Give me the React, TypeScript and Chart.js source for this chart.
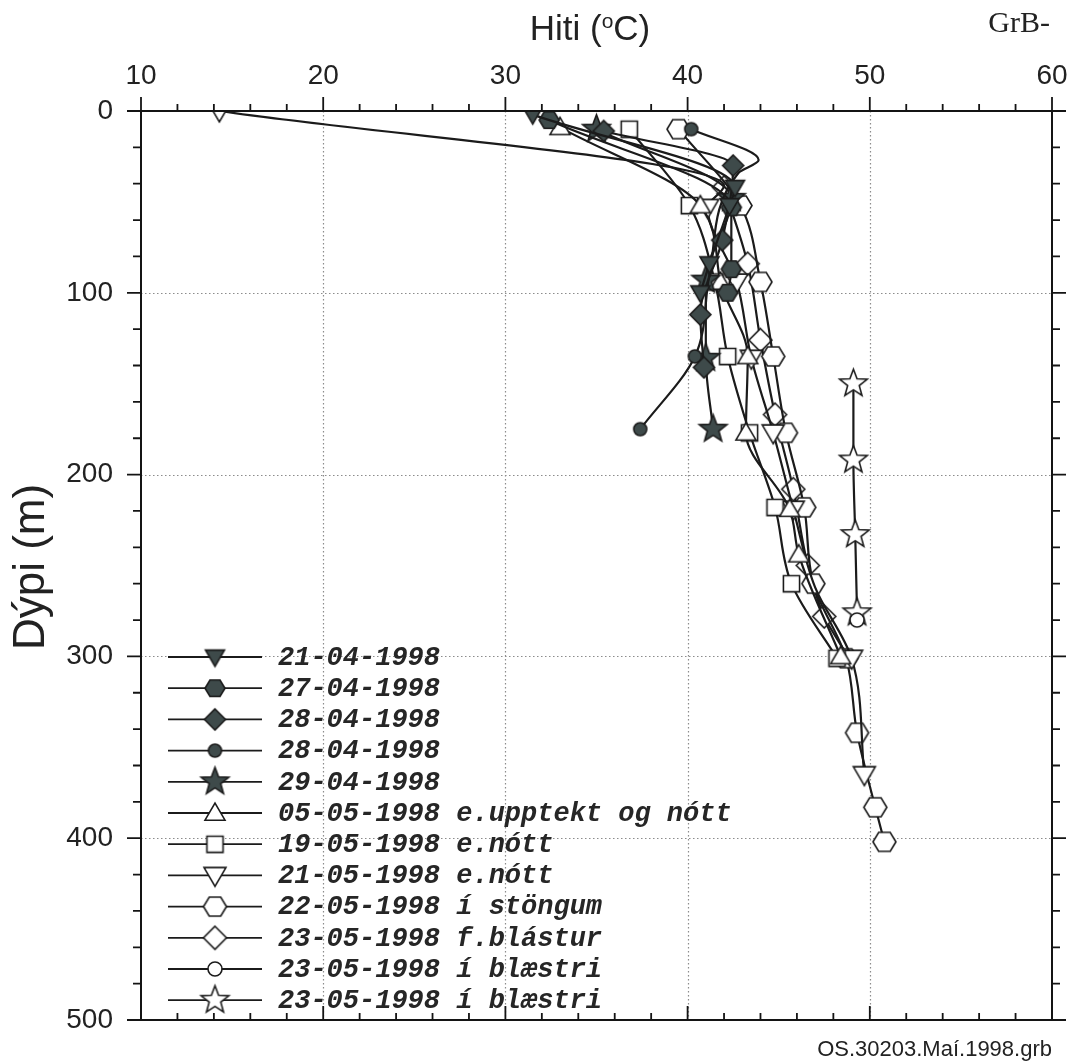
import React, { useEffect, useRef } from 'react';
import { Chart, registerables } from 'chart.js';

Chart.register(...registerables);

// ---------------- data ----------------
const legendLabels = [
  '21-04-1998',
  '27-04-1998',
  '28-04-1998',
  '28-04-1998',
  '29-04-1998',
  '05-05-1998 e.upptekt og nótt',
  '19-05-1998 e.nótt',
  '21-05-1998 e.nótt',
  '22-05-1998 í stöngum',
  '23-05-1998 f.blástur',
  '23-05-1998 í blæstri',
  '23-05-1998 í blæstri',
];

// temperature (°C) and depth (m) per survey
const t2104 = [31.5, 42.6, 42.3, 41.2, 40.7];
const d2104 = [2, 42, 52, 84, 100];

const t2704 = [32.4, 42.4, 42.4, 42.2];
const d2704 = [5, 53, 87, 100];

const t2804a = [35.4, 42.5, 41.9, 40.7, 40.9];
const d2804a = [11, 30, 71, 112, 141];

const t2804b = [40.2, 43.9, 42.8, 41.2, 40.4, 37.4];
const d2804b = [10, 27, 34, 90, 135, 175];
const m2804b = [1, 0, 0, 0, 1, 1];

const t2904 = [35.0, 42.4, 41.0, 41.0, 41.4];
const d2904 = [10, 48, 93, 136, 175];

const t0505 = [33.0, 40.7, 41.8, 43.3, 43.2, 45.6, 46.1, 48.4];
const d0505 = [9, 52, 94, 135, 177, 219, 244, 300];

const t1905 = [36.8, 40.1, 41.5, 42.2, 43.4, 44.8, 45.7, 48.2];
const d1905 = [10, 52, 94, 135, 177, 218, 260, 301];

const t2105 = [14.3, 42.0, 41.1, 42.7, 43.5, 44.7, 45.8, 47.0, 49.0, 49.7];
const d2105 = [0, 41, 53, 94, 136, 177, 219, 262, 301, 365];
const m2105 = [1, 0, 1, 1, 1, 1, 1, 0, 1, 1];

const t2205 = [39.5, 42.9, 44.0, 44.7, 45.4, 46.4, 46.9, 48.7, 49.3, 50.3, 50.8];
const d2205 = [10, 52, 94, 135, 177, 218, 260, 301, 342, 383, 402];

const t2305f = [42.0, 43.3, 44.0, 44.8, 45.8, 46.6, 47.5, 48.8];
const d2305f = [42, 84, 126, 167, 208, 250, 278, 300];
const m2305f = [1, 1, 1, 1, 1, 1, 1, 0];

const t2305c = [49.3];
const d2305c = [280];

const t2305s = [49.1, 49.1, 49.2, 49.3];
const d2305s = [150, 192, 233, 276];

const xGridValues = [20, 30, 40, 50];
const yGridValues = [100, 200, 300, 400];

// ---------------- styling ----------------
const LINE = '#1b1b1b';
const FILL = '#3e4a4a';
const TICK_FONT = "'Liberation Sans', Arial, sans-serif";

type Shape = 'triDown' | 'triUp' | 'hex' | 'diamond' | 'circle' | 'star' | 'square';

const markerSpecs: { shape: Shape; size: number; filled: boolean }[] = [
  { shape: 'triDown', size: 19, filled: true },
  { shape: 'hex', size: 20, filled: true },
  { shape: 'diamond', size: 21, filled: true },
  { shape: 'circle', size: 13, filled: true },
  { shape: 'star', size: 29, filled: true },
  { shape: 'triUp', size: 20, filled: false },
  { shape: 'square', size: 19, filled: false },
  { shape: 'triDown', size: 22, filled: false },
  { shape: 'hex', size: 23, filled: false },
  { shape: 'diamond', size: 23, filled: false },
  { shape: 'circle', size: 14, filled: false },
  { shape: 'star', size: 29, filled: false },
];

function makeMarker(shape: Shape, size: number, filled: boolean): HTMLCanvasElement {
  const pad = 3;
  const dim = Math.ceil(size + pad * 2);
  const c = document.createElement('canvas');
  c.width = dim;
  c.height = dim;
  const ctx = c.getContext('2d')!;
  const r = size / 2;
  ctx.translate(dim / 2, dim / 2);
  ctx.beginPath();
  if (shape === 'triDown') {
    ctx.moveTo(-r, -r * 0.72);
    ctx.lineTo(r, -r * 0.72);
    ctx.lineTo(0, r);
    ctx.closePath();
  } else if (shape === 'triUp') {
    ctx.moveTo(-r, r * 0.72);
    ctx.lineTo(r, r * 0.72);
    ctx.lineTo(0, -r);
    ctx.closePath();
  } else if (shape === 'hex') {
    for (let i = 0; i < 6; i++) {
      const a = (i * Math.PI) / 3;
      const px = r * Math.cos(a);
      const py = r * 0.95 * Math.sin(a);
      if (i === 0) ctx.moveTo(px, py);
      else ctx.lineTo(px, py);
    }
    ctx.closePath();
  } else if (shape === 'diamond') {
    ctx.moveTo(0, -r);
    ctx.lineTo(r, 0);
    ctx.lineTo(0, r);
    ctx.lineTo(-r, 0);
    ctx.closePath();
  } else if (shape === 'square') {
    const h = r * 0.85;
    ctx.rect(-h, -h, 2 * h, 2 * h);
  } else if (shape === 'circle') {
    ctx.arc(0, 0, r, 0, Math.PI * 2);
  } else if (shape === 'star') {
    for (let i = 0; i < 10; i++) {
      const a = -Math.PI / 2 + (i * Math.PI) / 5;
      const rr = i % 2 === 0 ? r : r * 0.42;
      const px = rr * Math.cos(a);
      const py = rr * Math.sin(a);
      if (i === 0) ctx.moveTo(px, py);
      else ctx.lineTo(px, py);
    }
    ctx.closePath();
  }
  ctx.fillStyle = filled ? FILL : '#ffffff';
  ctx.fill();
  ctx.lineWidth = 1.6;
  ctx.strokeStyle = LINE;
  ctx.stroke();
  return c;
}

const seriesT = [t2104, t2704, t2804a, t2804b, t2904, t0505, t1905, t2105, t2205, t2305f, t2305c, t2305s];
const seriesD = [d2104, d2704, d2804a, d2804b, d2904, d0505, d1905, d2105, d2205, d2305f, d2305c, d2305s];
const seriesMarked: (number[] | null)[] = [null, null, null, m2804b, null, null, null, m2105, null, m2305f, null, null];

export default function App() {
  const ref = useRef<HTMLCanvasElement | null>(null);

  useEffect(() => {
    const canvas = ref.current;
    if (!canvas) return;
    const markers = markerSpecs.map((m) => makeMarker(m.shape, m.size, m.filled));

    const datasets = seriesT.map((ts, i) => {
      const ds = seriesD[i];
      const marked = seriesMarked[i];
      return {
        label: legendLabels[i],
        data: ts.map((t, j) => ({ x: t, y: ds[j] })),
        borderColor: LINE,
        borderWidth: 2.2,
        backgroundColor: LINE,
        pointStyle: markers[i],
        pointRadius: marked ? marked.map((m) => (m ? 8 : 0)) : 8,
        pointHoverRadius: 8,
        cubicInterpolationMode: 'monotone' as const,
        fill: false,
      };
    });

    const framePlugin = {
      id: 'framePlugin',
      beforeDatasetsDraw(chart: any) {
        const { ctx, chartArea: a, scales } = chart;
        const x = scales.x;
        const y = scales.y;
        ctx.save();
        ctx.strokeStyle = '#8c8c8c';
        ctx.lineWidth = 1.2;
        ctx.setLineDash([1.5, 2.5]);
        for (const v of xGridValues) {
          const px = Math.round(x.getPixelForValue(v)) + 0.5;
          ctx.beginPath();
          ctx.moveTo(px, a.top);
          ctx.lineTo(px, a.bottom);
          ctx.stroke();
        }
        for (const v of yGridValues) {
          const py = Math.round(y.getPixelForValue(v)) + 0.5;
          ctx.beginPath();
          ctx.moveTo(a.left, py);
          ctx.lineTo(a.right, py);
          ctx.stroke();
        }
        ctx.restore();
      },
      afterDatasetsDraw(chart: any) {
        const { ctx, chartArea: a, scales } = chart;
        const x = scales.x;
        const y = scales.y;
        ctx.save();
        ctx.strokeStyle = '#141414';
        ctx.lineWidth = 2;
        ctx.strokeRect(a.left, a.top, a.right - a.left, a.bottom - a.top);
        ctx.lineWidth = 1.8;
        // x ticks
        for (let v = x.min; v <= x.max + 0.001; v += 2) {
          const major = Math.abs(v % 10) < 0.001;
          const len = major ? 14 : 7;
          const px = x.getPixelForValue(v);
          ctx.beginPath();
          ctx.moveTo(px, a.top);
          ctx.lineTo(px, a.top - len);
          ctx.moveTo(px, a.bottom);
          ctx.lineTo(px, a.bottom - len);
          ctx.stroke();
        }
        // y ticks
        for (let v = y.min; v <= y.max + 0.001; v += 20) {
          const major = Math.abs(v % 100) < 0.001;
          const len = major ? 14 : 8;
          const py = y.getPixelForValue(v);
          ctx.beginPath();
          ctx.moveTo(a.left, py);
          ctx.lineTo(a.left - len, py);
          ctx.moveTo(a.right, py);
          ctx.lineTo(a.right + len, py);
          ctx.stroke();
        }

        // legend
        const rowTop = 657;
        const rowStep = 31.2;
        ctx.font = "italic bold 27px 'Liberation Mono', 'Courier New', monospace";
        ctx.textBaseline = 'middle';
        ctx.textAlign = 'left';
        legendLabels.forEach((lab, i) => {
          const ry = rowTop + i * rowStep;
          ctx.strokeStyle = LINE;
          ctx.lineWidth = 1.8;
          ctx.beginPath();
          ctx.moveTo(168, ry);
          ctx.lineTo(262, ry);
          ctx.stroke();
          const m = markers[i];
          ctx.drawImage(m, 215 - m.width / 2, ry - m.height / 2);
          ctx.fillStyle = '#262626';
          ctx.fillText(lab, 278, ry + 1);
        });
        ctx.restore();
      },
      afterDraw(chart: any) {
        const { ctx } = chart;
        ctx.save();
        ctx.fillStyle = '#222';
        // top title Hiti (oC)
        ctx.textBaseline = 'alphabetic';
        ctx.textAlign = 'left';
        const big = "35px 'Liberation Sans', Arial, sans-serif";
        const sup = "21px 'Liberation Sans', Arial, sans-serif";
        ctx.font = big;
        const p1 = 'Hiti (';
        const p3 = 'C)';
        const w1 = ctx.measureText(p1).width;
        const w3 = ctx.measureText(p3).width;
        ctx.font = sup;
        const w2 = ctx.measureText('o').width;
        const total = w1 + w2 + w3;
        let sx = 590 - total / 2;
        const base = 40;
        ctx.font = big;
        ctx.fillText(p1, sx, base);
        sx += w1;
        ctx.font = sup;
        ctx.fillText('o', sx, base - 12);
        sx += w2;
        ctx.font = big;
        ctx.fillText(p3, sx, base);

        // GrB-
        ctx.font = "30px 'Liberation Serif', 'Times New Roman', serif";
        ctx.textAlign = 'right';
        ctx.fillText('GrB-', 1050, 32);

        // file name
        ctx.font = "22px 'Liberation Sans', Arial, sans-serif";
        ctx.textAlign = 'right';
        ctx.fillText('OS.30203.Maí.1998.grb', 1052, 1056);

        // y title
        ctx.translate(44, 567);
        ctx.rotate(-Math.PI / 2);
        ctx.textAlign = 'center';
        ctx.font = "44px 'Liberation Sans', Arial, sans-serif";
        ctx.fillText('Dýpi (m)', 0, 0);
        ctx.restore();
      },
    };

    const chart = new Chart(canvas, {
      type: 'line',
      data: { datasets: datasets as any },
      options: {
        responsive: false,
        animation: false,
        indexAxis: 'y',
        layout: { autoPadding: false, padding: { top: 0, left: 0, right: 18, bottom: 43 } },
        plugins: {
          legend: { display: false },
          tooltip: { enabled: false },
        },
        events: [],
        scales: {
          x: {
            type: 'linear',
            position: 'top',
            min: 10,
            max: 60,
            grid: { display: false, drawTicks: false },
            border: { display: false },
            ticks: {
              stepSize: 10,
              padding: 18,
              color: '#222',
              font: { family: TICK_FONT, size: 28 },
            },
            afterFit: (s: any) => {
              s.height = 111;
              s.paddingLeft = 0;
              s.paddingRight = 0;
            },
          },
          y: {
            type: 'linear',
            position: 'left',
            reverse: true,
            min: 0,
            max: 500,
            grid: { display: false, drawTicks: false },
            border: { display: false },
            ticks: {
              stepSize: 100,
              padding: 28,
              color: '#222',
              font: { family: TICK_FONT, size: 28 },
            },
            afterFit: (s: any) => {
              s.width = 141;
              s.paddingTop = 0;
              s.paddingBottom = 0;
            },
          },
        },
      } as any,
      plugins: [framePlugin],
    });

    return () => chart.destroy();
  }, []);

  return (
    <div style={{ position: 'fixed', left: 0, top: 0, width: 1070, height: 1063, background: '#fff' }}>
      <canvas ref={ref} width={1070} height={1063} style={{ display: 'block' }} />
    </div>
  );
}
